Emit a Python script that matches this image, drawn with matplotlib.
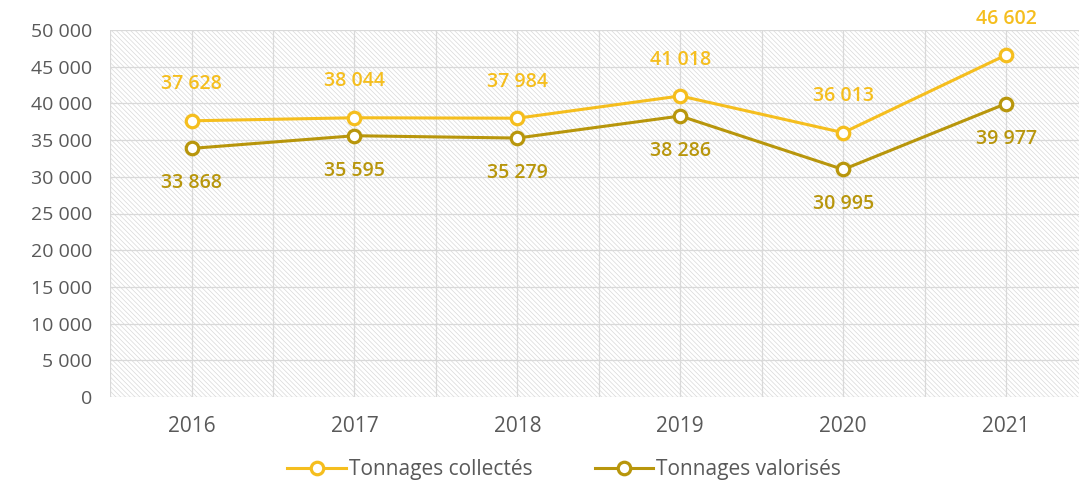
import matplotlib.pyplot as plt
from matplotlib.patches import Rectangle
from matplotlib.ticker import FuncFormatter

years = ['2016', '2017', '2018', '2019', '2020', '2021']
collectes = [37628, 38044, 37984, 41018, 36013, 46602]
valorises = [33868, 35595, 35279, 38286, 30995, 39977]

gold = '#F5BE1E'
dark_gold = '#B8960C'
grey = '#595959'

plt.rcParams['font.family'] = ['Open Sans', 'DejaVu Sans']
plt.rcParams['hatch.linewidth'] = 0.5
plt.rcParams['hatch.color'] = '#d9d9d9'

fig = plt.figure(figsize=(10.79, 4.88), dpi=100)
ax = fig.add_axes([0.102, 0.1865, 0.906, 0.752])

x = list(range(len(years)))
ax.set_xlim(-0.5, 5.5)
ax.set_ylim(0, 50000)

# fond hachuré
ax.add_patch(Rectangle((0, 0), 1, 1, transform=ax.transAxes, facecolor='white',
                       edgecolor='#d9d9d9', hatch='\\' * 7, lw=0, zorder=0))

# grille
for yv in range(0, 50001, 5000):
    ax.axhline(yv, color='#d9d9d9', lw=0.9, zorder=1)
for xv in [i * 0.5 - 0.5 for i in range(13)]:
    ax.axvline(xv, color='#d9d9d9', lw=0.9, zorder=1)

ax.plot(x, collectes, color=gold, lw=2.2, marker='o', ms=9, mfc='white',
        mec=gold, mew=2.3, label='Tonnages collectés', zorder=3)
ax.plot(x, valorises, color=dark_gold, lw=2.2, marker='o', ms=9, mfc='white',
        mec=dark_gold, mew=2.3, label='Tonnages valorisés', zorder=3)

def fmt(v):
    return f'{v:,}'.replace(',', ' ')

for xi, v in zip(x, collectes):
    ax.annotate(fmt(v), (xi, v), xytext=(0, 19), textcoords='offset points',
                ha='center', va='bottom', color=gold, fontsize=14,
                fontweight='semibold')
for xi, v in zip(x, valorises):
    ax.annotate(fmt(v), (xi, v), xytext=(0, -18), textcoords='offset points',
                ha='center', va='top', color=dark_gold, fontsize=14,
                fontweight='semibold')

ax.set_xticks(x)
ax.set_xticklabels(years)
ax.set_yticks(range(0, 50001, 5000))
ax.yaxis.set_major_formatter(FuncFormatter(lambda v, p: fmt(int(v))))
ax.tick_params(length=0, colors=grey)
ax.tick_params(axis='x', pad=14, labelsize=15)
ax.tick_params(axis='y', pad=13, labelsize=14)
for s in ax.spines.values():
    s.set_visible(False)

fig.legend(loc='center', bbox_to_anchor=(0.523, 0.037), ncol=2, frameon=False,
           fontsize=15, labelcolor=grey, handlelength=2.8, columnspacing=3.0,
           handletextpad=0.15)

fig.savefig('out.png', dpi=100)
